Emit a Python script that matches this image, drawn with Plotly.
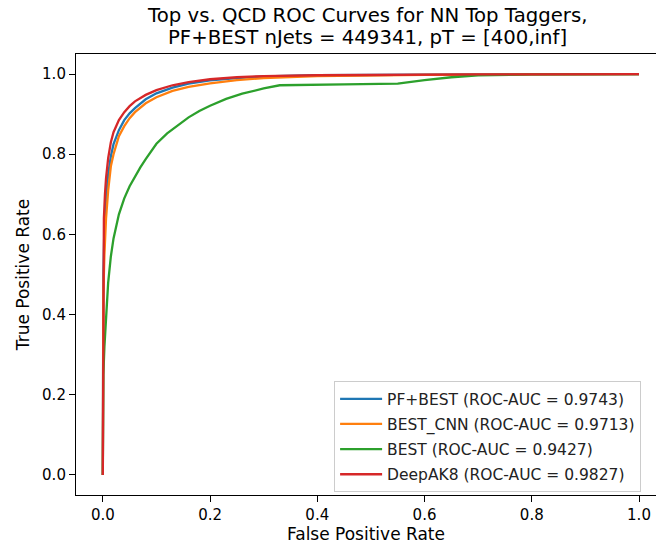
import plotly.graph_objects as go

# ---- data ----
names = ["PF+BEST (ROC-AUC = 0.9743)", "BEST_CNN (ROC-AUC = 0.9713)",
         "BEST (ROC-AUC = 0.9427)", "DeepAK8 (ROC-AUC = 0.9827)"]
colors = ["#1f77b4", "#ff7f0e", "#2ca02c", "#d62728"]

pfbest_fpr = [0, 0.001, 0.003, 0.006, 0.01, 0.015, 0.02, 0.03, 0.04, 0.05, 0.06, 0.08, 0.1, 0.13, 0.16, 0.2, 0.25, 0.3, 0.4, 0.5, 0.7, 1.0]
pfbest_tpr = [0, 0.5, 0.62, 0.69, 0.75, 0.795, 0.825, 0.86, 0.885, 0.902, 0.915, 0.937, 0.952, 0.966, 0.976, 0.984, 0.99, 0.994, 0.997, 0.998, 0.999, 1.0]

bestcnn_fpr = [0, 0.001, 0.003, 0.006, 0.01, 0.015, 0.02, 0.03, 0.04, 0.05, 0.06, 0.08, 0.1, 0.13, 0.16, 0.2, 0.25, 0.3, 0.4, 0.5, 0.6, 0.8, 1.0]
bestcnn_tpr = [0, 0.45, 0.55, 0.64, 0.71, 0.77, 0.80, 0.845, 0.87, 0.89, 0.905, 0.927, 0.942, 0.958, 0.968, 0.977, 0.985, 0.99, 0.995, 0.997, 0.998, 0.999, 1.0]

best_fpr = [0, 0.001, 0.003, 0.006, 0.01, 0.015, 0.02, 0.03, 0.04, 0.05, 0.06, 0.07, 0.08, 0.1, 0.12, 0.14, 0.16, 0.18, 0.2, 0.23, 0.26, 0.3, 0.33, 0.45, 0.55, 0.6, 0.65, 0.7, 0.8, 1.0]
best_tpr = [0, 0.25, 0.32, 0.40, 0.48, 0.545, 0.59, 0.65, 0.69, 0.72, 0.745, 0.767, 0.788, 0.826, 0.852, 0.873, 0.892, 0.908, 0.921, 0.938, 0.951, 0.964, 0.972, 0.974, 0.976, 0.985, 0.992, 0.997, 0.999, 1.0]

deepak8_fpr = [0, 0.0005, 0.002, 0.004, 0.006, 0.01, 0.015, 0.02, 0.03, 0.04, 0.05, 0.06, 0.08, 0.1, 0.13, 0.16, 0.2, 0.25, 0.3, 0.4, 0.5, 0.7, 1.0]
deepak8_tpr = [0, 0.45, 0.64, 0.70, 0.74, 0.79, 0.83, 0.855, 0.885, 0.905, 0.92, 0.932, 0.948, 0.96, 0.972, 0.98, 0.987, 0.992, 0.995, 0.997, 0.998, 0.999, 1.0]

x_ticks = [0.0, 0.2, 0.4, 0.6, 0.8, 1.0]
y_ticks = [0.0, 0.2, 0.4, 0.6, 0.8, 1.0]

title_lines = ["Top vs. QCD ROC Curves for NN Top Taggers,",
               "PF+BEST nJets = 449341, pT = [400,inf]"]

series = [(pfbest_fpr, pfbest_tpr), (bestcnn_fpr, bestcnn_tpr),
          (best_fpr, best_tpr), (deepak8_fpr, deepak8_tpr)]

FONT = "DejaVu Sans"
H, T, B = 549, 54, 54
plot_h = H - T - B

fig = go.Figure()
for i, ((fx, ty), name, col) in enumerate(zip(series, names, colors)):
    fig.add_trace(go.Scatter(x=fx, y=ty, mode="lines", name=name,
                             legendgroup=f"g{i}",
                             line=dict(color=col, width=2.3)))

# two-line title, centred over the axes
for k, (txt, ypx) in enumerate(zip(title_lines, [15.5, 37.5])):
    fig.add_annotation(text=txt, xref="paper", yref="paper",
                       x=0.502, y=1 + (T - ypx) / plot_h,
                       xanchor="center", yanchor="middle", showarrow=False,
                       font=dict(family=FONT, size=19.7, color="#000000"))

fig.update_layout(
    width=656, height=H,
    margin=dict(l=76, r=0, t=T, b=B),
    paper_bgcolor="white", plot_bgcolor="white",
    font=dict(family=FONT, size=15, color="#000000"),
    showlegend=True,
    legend=dict(x=0.445, y=0.258, xanchor="left", yanchor="top",
                bordercolor="#cccccc", borderwidth=1, bgcolor="rgba(255,255,255,0.8)",
                font=dict(family=FONT, size=15.5, color="#222222"),
                itemwidth=42, tracegroupgap=2, traceorder="grouped"),
)
fig.update_xaxes(range=[-0.05, 1.0317], tickvals=x_ticks, ticktext=[f"{v:.1f}" for v in x_ticks],
                 showgrid=False, zeroline=False, showline=True, mirror=True,
                 linecolor="#000000", linewidth=1.1, ticks="outside", ticklen=6,
                 tickcolor="#000000", tickwidth=1.1,
                 tickfont=dict(size=15, color="#000000"),
                 title=dict(text="False Positive Rate", standoff=4,
                            font=dict(size=17, color="#000000")))
fig.update_yaxes(range=[-0.05, 1.05], tickvals=y_ticks, ticktext=[f"{v:.1f}" for v in y_ticks],
                 showgrid=False, zeroline=False, showline=True, mirror=False,
                 linecolor="#000000", linewidth=1.1, ticks="outside", ticklen=6,
                 tickcolor="#000000", tickwidth=1.1,
                 tickfont=dict(size=15, color="#000000"),
                 title=dict(text="True Positive Rate", standoff=8,
                            font=dict(size=17, color="#000000")))

fig.write_html("out.html")
